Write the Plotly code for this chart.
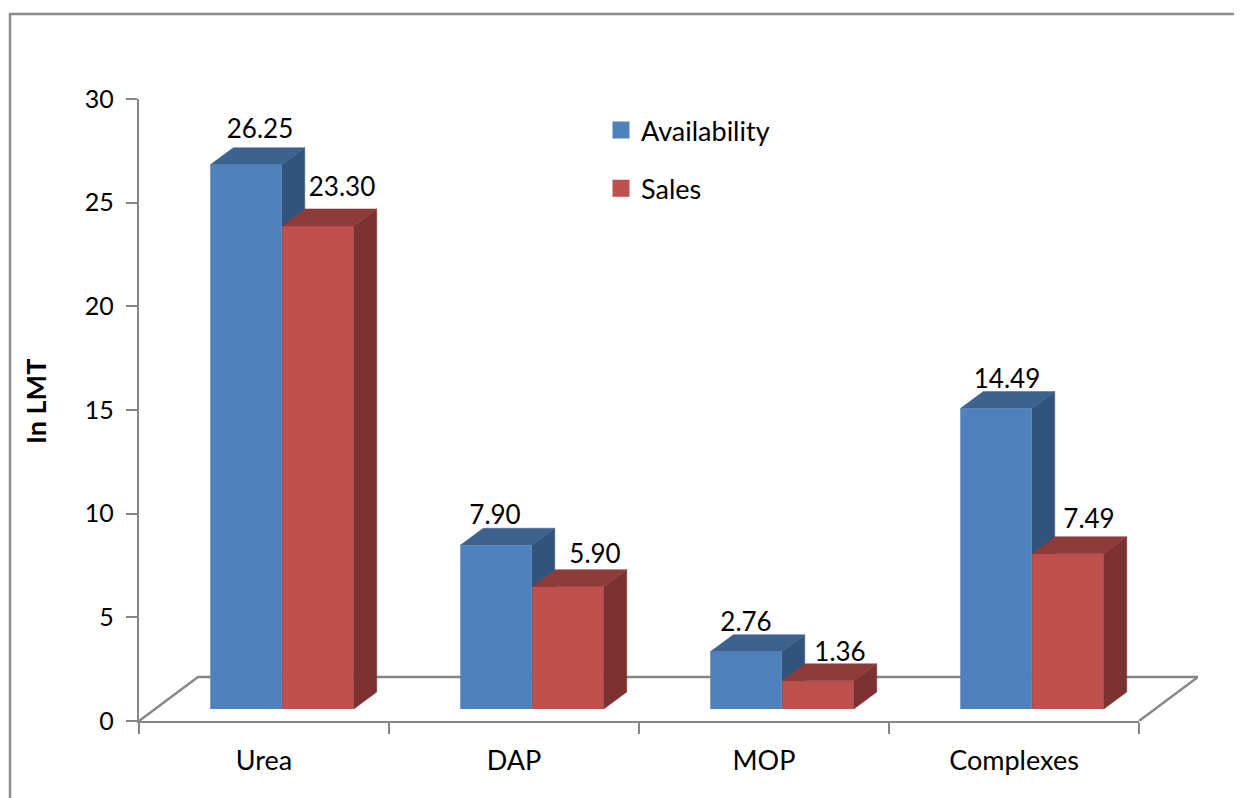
import plotly.graph_objects as go

categories = ["Urea", "DAP", "MOP", "Complexes"]
availability = [26.25, 7.90, 2.76, 14.49]
sales = [23.30, 5.90, 1.36, 7.49]
avail_labels = ["26.25", "7.90", "2.76", "14.49"]
sales_labels = ["23.30", "5.90", "1.36", "7.49"]
y_title = "In LMT"

# page offset of the figure inside the browser body
PAGE = 8
FIG_W, FIG_H = 1242 - PAGE, 798 - PAGE
# pixel geometry of the plot box, in reference (window) pixels
PX_L, PX_R, PX_T, PX_B = 139, 1139, 99, 721
PX_FLOOR_R = 1198
ux = (PX_R - PX_L) / 4.0
uy = (PX_B - PX_T) / 30.0
FONT = "Lato"
GREY = "#868686"
LINE_W = 2.4

BAR_W = 71.5 / ux
CENTER_A = 0.428
CENTER_S = 0.716
BASE = 12 / uy
DX = 23 / ux
DY = 17 / uy
FLOOR_DX = 59 / ux
FLOOR_DY = 44 / uy

# hand placement of labels relative to the bar centre, in px
avail_off = [(14, 33), (-1, 28), (0, 27), (11, 27)]
sales_off = [(24, 36), (27, 30), (22, 26), (21, 32)]

BLUE, BLUE_TOP, BLUE_SIDE = "#4F81BD", "#3C6290", "#32547C"
RED, RED_TOP, RED_SIDE = "#C0504D", "#8E3B39", "#7C3230"


def polys(centers, values, kind):
    xs, ys = [], []
    for c, v in zip(centers, values):
        l, r = c - BAR_W / 2, c + BAR_W / 2
        t = BASE + v
        if kind == "top":
            px = [l, l + DX, r + DX, r, l]
            py = [t, t + DY, t + DY, t, t]
        else:
            px = [r, r + DX, r + DX, r, r]
            py = [t, t + DY, BASE + DY, BASE, t]
        xs += px + [None]
        ys += py + [None]
    return xs, ys


def face(centers, values, kind, color, xa, ya):
    x, y = polys(centers, values, kind)
    return go.Scatter(x=x, y=y, mode="lines", fill="toself", fillcolor=color,
                      line=dict(color=color, width=0.5), xaxis=xa, yaxis=ya,
                      showlegend=False, hoverinfo="skip", cliponaxis=False)


n = len(categories)
cent_a = [i + CENTER_A for i in range(n)]
cent_s = [i + CENTER_S for i in range(n)]

fig = go.Figure()

# floor, on its own wider axes
fig.add_trace(go.Scatter(
    x=[0, FLOOR_DX, n + FLOOR_DX, n], y=[0, FLOOR_DY, FLOOR_DY, 0],
    mode="lines", line=dict(color=GREY, width=LINE_W), showlegend=False,
    hoverinfo="skip", cliponaxis=False, xaxis="x", yaxis="y"))

# back faces of the availability bars lie under the sales bars
fig.add_trace(face(cent_a, availability, "side", BLUE_SIDE, "x2", "y2"))
fig.add_trace(face(cent_a, availability, "top", BLUE_TOP, "x2", "y2"))

fig.add_trace(go.Bar(x=cent_a, y=availability, base=BASE, width=BAR_W, name="Availability",
                     marker=dict(color=BLUE, line=dict(width=0)), xaxis="x3", yaxis="y3",
                     showlegend=False))
fig.add_trace(go.Bar(x=cent_s, y=sales, base=BASE, width=BAR_W, name="Sales",
                     marker=dict(color=RED, line=dict(width=0)), xaxis="x3", yaxis="y3",
                     showlegend=False))
fig.add_trace(face(cent_s, sales, "side", RED_SIDE, "x3", "y3"))
fig.add_trace(face(cent_s, sales, "top", RED_TOP, "x3", "y3"))

# legend entries (thick outline gives the larger swatch)
fig.add_trace(go.Bar(x=[None], y=[None], name="Availability", legendgroup="a",
                     marker=dict(color=BLUE, line=dict(color=BLUE, width=5)),
                     xaxis="x3", yaxis="y3", hoverinfo="skip"))
fig.add_trace(go.Bar(x=[None], y=[None], name="Sales", legendgroup="s",
                     marker=dict(color=RED, line=dict(color=RED, width=5)),
                     xaxis="x3", yaxis="y3", hoverinfo="skip"))

# data labels
lab_x, lab_y, lab_t = [], [], []
for cs, vals, labs, off in ((cent_a, availability, avail_labels, avail_off),
                            (cent_s, sales, sales_labels, sales_off)):
    for c, v, t, (ox, oy) in zip(cs, vals, labs, off):
        lab_x.append(c + ox / ux)
        lab_y.append(BASE + v + oy / uy)
        lab_t.append(t)
fig.add_trace(go.Scatter(x=lab_x, y=lab_y, text=lab_t, mode="text", textposition="middle center",
                         textfont=dict(family=FONT, size=26, color="#000000"),
                         xaxis="x3", yaxis="y3", showlegend=False, hoverinfo="skip",
                         cliponaxis=False))

W = PX_FLOOR_R - PX_L


def pap_x(px):
    return (px - PX_L) / W


def pap_y(py):
    return (PX_B - py) / (PX_B - PX_T)


dom = [0, (PX_R - PX_L) / W]
fig.update_layout(
    width=FIG_W, height=FIG_H, autosize=False,
    margin=dict(l=PX_L - PAGE, r=FIG_W - (PX_FLOOR_R - PAGE), t=PX_T - PAGE, b=FIG_H - (PX_B - PAGE), pad=0),
    paper_bgcolor="white", plot_bgcolor="rgba(0,0,0,0)",
    barmode="overlay",
    font=dict(family=FONT, size=24, color="#000000"),
    xaxis=dict(domain=[0, 1], range=[0, W / ux], visible=False),
    yaxis=dict(range=[0, 30], visible=False),
    xaxis2=dict(domain=dom, anchor="y2", range=[0, n], tickmode="array",
                tickvals=[i + 0.5 for i in range(n)],
                ticktext=categories, ticks="", showgrid=False, zeroline=False,
                showline=True, linecolor=GREY, linewidth=LINE_W, ticklabelstandoff=14,
                tickfont=dict(family=FONT, size=27),
                minor=dict(tickmode="array", tickvals=list(range(n + 1)), ticks="outside",
                           ticklen=11, tickwidth=LINE_W, tickcolor=GREY, showgrid=False)),
    yaxis2=dict(domain=[0, 1], anchor="x2", range=[0, 30], tickmode="array",
                tickvals=[0, 5, 10, 15, 20, 25, 30],
                ticks="outside", ticklen=11, tickwidth=LINE_W, tickcolor=GREY, showgrid=False,
                zeroline=False, showline=True, linecolor=GREY, linewidth=LINE_W,
                ticklabelstandoff=7, tickfont=dict(family=FONT, size=25)),
    xaxis3=dict(domain=dom, anchor="y3", range=[0, n], overlaying="x2", visible=False),
    yaxis3=dict(domain=[0, 1], anchor="x3", range=[0, 30], overlaying="y2", visible=False),
    legend=dict(x=pap_x(601), y=pap_y(106), xanchor="left", yanchor="top",
                orientation="v", traceorder="grouped", tracegroupgap=20,
                font=dict(family=FONT, size=27), bgcolor="rgba(0,0,0,0)"),
    annotations=[dict(text=f"<b>{y_title}</b>", textangle=-90, showarrow=False,
                      xref="paper", yref="paper", x=pap_x(35), y=pap_y(402),
                      xanchor="center", yanchor="middle",
                      font=dict(family=FONT, size=27, color="#000000"))],
    shapes=[dict(type="path", xref="paper", yref="paper",
                 path=f"M {pap_x(10)} {pap_y(798)} L {pap_x(10)} {pap_y(14)} L {pap_x(1242)} {pap_y(14)}",
                 line=dict(color="#8C8C8C", width=2.5))],
)

fig.write_html("out.html")
